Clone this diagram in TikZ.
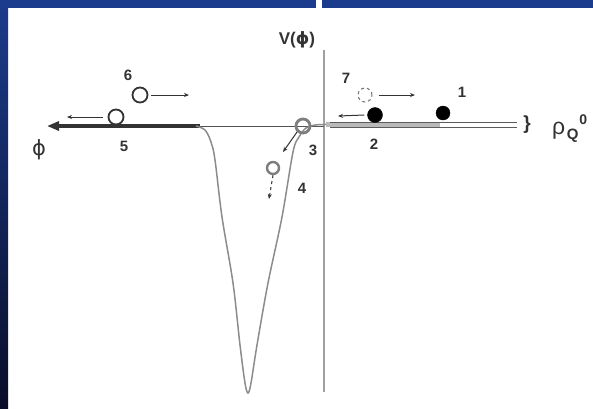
\documentclass[tikz,border=0pt]{standalone}
\usepackage{fontspec}
\setmainfont{Liberation Sans}
\newfontfamily\djv{DejaVu Sans}
\usetikzlibrary{arrows.meta}
\definecolor{frameblue}{HTML}{1B3C8C}
\definecolor{framedark}{HTML}{0A0D28}
\definecolor{ink}{HTML}{333333}
\definecolor{curvegray}{HTML}{8C8C8C}
\definecolor{axisgray}{HTML}{A0A0A0}
\begin{document}
\begin{tikzpicture}[x=1pt,y=-1pt,
  lbl/.style={text=ink,font=\fontsize{15}{15}\selectfont\bfseries,inner sep=0},
  ball/.style={circle,draw=ink,line width=1.8pt,minimum size=15pt,inner sep=0},
  fullball/.style={circle,fill=black,draw=black,minimum size=14pt,inner sep=0},
  grayball/.style={circle,draw=curvegray!90!black,line width=2.8pt,minimum size=14pt,inner sep=0},
  ghostball/.style={circle,draw=ink!70,dashed,line width=1pt,minimum size=14pt,inner sep=0},
  move/.style={draw=ink,line width=1pt,-{Stealth[length=5pt,width=4pt]}}]
\useasboundingbox (0,0) rectangle (593,408);
\fill[white] (0,0) rectangle (593,408);
\shade[top color=frameblue, bottom color=framedark] (0,0) rectangle (8,408);
\fill[frameblue] (0,0) rectangle (593,8);
\fill[white] (316,0) rectangle (322,8);
% vertical axis
\draw[axisgray,line width=2pt] (324,50) -- (324,392);
\node[text=ink,font=\fontsize{17}{17}\selectfont\bfseries] (vlab) at (297,40) {V({\djv ϕ})};
% horizontal axis
\draw[ink!85,line width=1pt] (200,126) -- (324,126);
\coordinate (corner) at (200,126);
\coordinate (tip) at (47,126);
\draw[ink,line width=3.4pt,-{Triangle[length=12pt,width=9pt]}] (corner) -- (tip);
\node[text=ink,font=\fontsize{21}{21}\selectfont\djv] (phi) at (39,150) {ϕ};
% potential
\draw[curvegray,line width=1.5pt] plot[smooth,tension=0.55] coordinates
 {(196,126) (205,130) (211,142) (215,160) (222,217) (233,283) (240,345) (245,383) (248,393) (251,383) (257,345) (268,283) (282,217) (293,152) (299,137) (306,128) (315,125) (324,124.5) (340,124)};
% right band
\fill[gray!55] (326,122) rectangle (440,127);
\draw[ink!80,line width=0.9pt] (330,122) -- (517,122);
\draw[ink!80,line width=0.9pt] (330,127) -- (517,127);
\node[text=ink,font=\fontsize{19}{19}\selectfont\bfseries] (brace) at (527,125) {\}};
\node[text=ink,inner sep=0,anchor=west] (rho) at (552,129)
 {\fontsize{23}{23}\selectfont ρ\kern1.5pt\raisebox{-5pt}{\fontsize{15}{15}\selectfont\bfseries Q}\kern1pt\raisebox{10pt}{\fontsize{14}{14}\selectfont\bfseries 0}};
% balls
\node[fullball] (b1) at (443,113) {};
\node[lbl] (l1) at (462,92) {1};
\node[fullball,minimum size=15pt] (b2) at (375,115) {};
\node[lbl] (l2) at (374,144) {2};
\node[grayball] (b3) at (303,126) {};
\node[lbl] (l3) at (313,150) {3};
\node[grayball,minimum size=12pt,line width=2.4pt] (b4) at (273,168) {};
\node[lbl] (l4) at (302,188) {4};
\node[ball] (b5) at (116,117) {};
\node[lbl] (l5) at (124,146) {5};
\node[ball] (b6) at (140,95) {};
\node[lbl] (l6) at (128,75) {6};
\node[ghostball] (b7) at (365,95) {};
\node[lbl] (l7) at (346,78) {7};
% motion arrows
\coordinate (e2) at (338,116);
\coordinate (e3) at (283,152);
\coordinate (e4) at (269,199);
\coordinate (e5) at (67,117);
\coordinate (e6) at (189,95);
\coordinate (e7) at (415,95);
\draw[move] ([xshift=-3pt]b2.west) -- (e2);
\draw[move] (b3.south west) -- (e3);
\draw[move,dashed] (b4.south) -- (e4);
\draw[move] ([xshift=-5pt]b5.west) -- (e5);
\draw[move] ([xshift=3pt]b6.east) -- (e6);
\draw[move] ([xshift=6pt]b7.east) -- (e7);
\end{tikzpicture}
\end{document}
